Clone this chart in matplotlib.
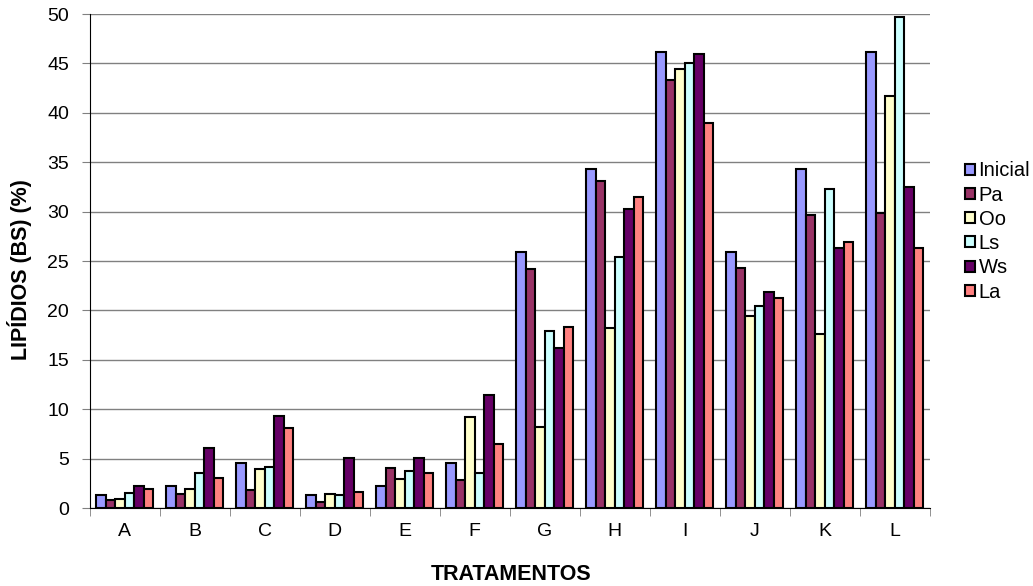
import matplotlib.pyplot as plt
import numpy as np

plt.rcParams['font.family'] = ['Liberation Sans', 'DejaVu Sans']

categories = ['A', 'B', 'C', 'D', 'E', 'F', 'G', 'H', 'I', 'J', 'K', 'L']
series = ['Inicial', 'Pa', 'Oo', 'Ls', 'Ws', 'La']
inicial = [1.3, 2.2, 4.6, 1.3, 2.2, 4.6, 25.9, 34.3, 46.2, 25.9, 34.3, 46.2]
pa = [0.8, 1.4, 1.8, 0.6, 4.1, 2.8, 24.2, 33.1, 43.3, 24.3, 29.7, 29.9]
oo = [0.9, 1.9, 4.0, 1.4, 2.9, 9.2, 8.2, 18.2, 44.4, 19.4, 17.6, 41.7]
ls = [1.5, 3.5, 4.2, 1.3, 3.8, 3.5, 17.9, 25.4, 45.0, 20.5, 32.3, 49.7]
ws = [2.2, 6.1, 9.3, 5.1, 5.1, 11.4, 16.2, 30.3, 46.0, 21.9, 26.3, 32.5]
la = [1.9, 3.0, 8.1, 1.6, 3.5, 6.5, 18.3, 31.5, 39.0, 21.3, 26.9, 26.3]
values = [inicial, pa, oo, ls, ws, la]
colors = ['#9999FF', '#993366', '#FFFFCC', '#CCFFFF', '#660066', '#FF8080']

fig = plt.figure(figsize=(10.33, 5.86), dpi=100)
ax = fig.add_axes([0.087, 0.133, 0.813, 0.843])

x = np.arange(len(categories))
w = 0.136
for i, (name, vals) in enumerate(zip(series, values)):
    ax.bar(x + (i - 2.5) * w, vals, w, color=colors[i], edgecolor='black',
           linewidth=1.5, label=name, zorder=3)

ax.set_xlim(-0.5, len(categories) - 0.5)
ax.set_ylim(0, 50)
ax.set_yticks(np.arange(0, 51, 5))
ax.yaxis.grid(True, color='#808080', linewidth=1.0, zorder=0)
ax.set_xticks(x)
ax.set_xticklabels(categories)
ax.set_xticks(np.arange(-0.5, len(categories), 1), minor=True)
ax.tick_params(axis='x', which='major', length=0, pad=11, labelsize=14)
ax.tick_params(axis='x', which='minor', length=6, color='#808080')
ax.tick_params(axis='y', length=6, pad=9, labelsize=14, color='#808080')
for s in ['top', 'right']:
    ax.spines[s].set_visible(False)
ax.spines['left'].set_color('black')
ax.spines['bottom'].set_color('black')

fig.text(20 / 1033, 1 - 270 / 586, 'LIPÍDIOS (BS) (%)', rotation=90,
         fontsize=15.5, fontweight='bold', ha='center', va='center')
fig.text((93 + 930) / 2 / 1033, 1 - 574 / 586, 'TRATAMENTOS',
         fontsize=15.5, fontweight='bold', ha='center', va='center')

ax.legend(loc='center left', bbox_to_anchor=(1.033, 0.56), frameon=False,
          fontsize=14.5, handlelength=0.45, handleheight=0.45, handletextpad=0.2,
          labelspacing=0.26, borderaxespad=0)

fig.savefig('out.png', dpi=100)
